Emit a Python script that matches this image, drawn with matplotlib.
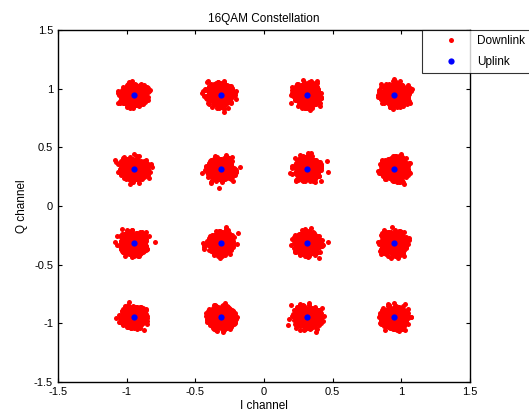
import numpy as np
import matplotlib.pyplot as plt

plt.rcParams['font.family'] = ['Liberation Sans', 'DejaVu Sans']

# ideal 16QAM constellation levels (normalised)
levels = [-0.949, -0.316, 0.316, 0.949]
# received downlink samples: spread around each point
noise_std = 0.039
samples_per_point = 1000

title = "16QAM Constellation"
xlabel = "I channel"
ylabel = "Q channel"
ticks = [-1.5, -1, -0.5, 0, 0.5, 1, 1.5]
tick_labels = ["-1.5", "-1", "-0.5", "0", "0.5", "1", "1.5"]

ux, uy = np.meshgrid(levels, levels)
ux, uy = ux.ravel(), uy.ravel()

rng = np.random.default_rng(7)
dx = np.repeat(ux, samples_per_point) + rng.normal(0, noise_std, ux.size * samples_per_point)
dy = np.repeat(uy, samples_per_point) + rng.normal(0, noise_std, uy.size * samples_per_point)

fig = plt.figure(figsize=(5.29, 4.16), dpi=100)
ax = fig.add_axes([0.1096, 0.0817, 0.7788, 0.8463])

ax.plot(dx, dy, 'o', color='red', ms=3.6, mew=0, label="Downlink", linestyle='none')
ax.plot(ux, uy, 'o', color='blue', ms=4.5, mew=0, label="Uplink", linestyle='none')

ax.set_xlim(-1.5, 1.5)
ax.set_ylim(-1.5, 1.5)
ax.set_xticks(ticks)
ax.set_xticklabels(tick_labels)
ax.set_yticks(ticks)
ax.set_yticklabels(tick_labels)
ax.tick_params(direction='in', top=True, right=True, labelsize=8, length=3, width=0.8)
for s in ax.spines.values():
    s.set_linewidth(1.0)

ax.set_title(title, fontsize=8.5, pad=6)
ax.set_xlabel(xlabel, fontsize=8.5, labelpad=2)
ax.set_ylabel(ylabel, fontsize=8.5, labelpad=4)

leg = ax.legend(loc='upper left', bbox_to_anchor=(422 / 529, 0.928), bbox_transform=fig.transFigure,
                fontsize=8.5, frameon=True, fancybox=False, borderaxespad=0, markerscale=1.0,
                handlelength=4.0, handletextpad=0.2, borderpad=0.45, labelspacing=0.75)
leg.get_frame().set_edgecolor('black')
leg.get_frame().set_linewidth(0.8)

fig.savefig("out.png", dpi=100)
